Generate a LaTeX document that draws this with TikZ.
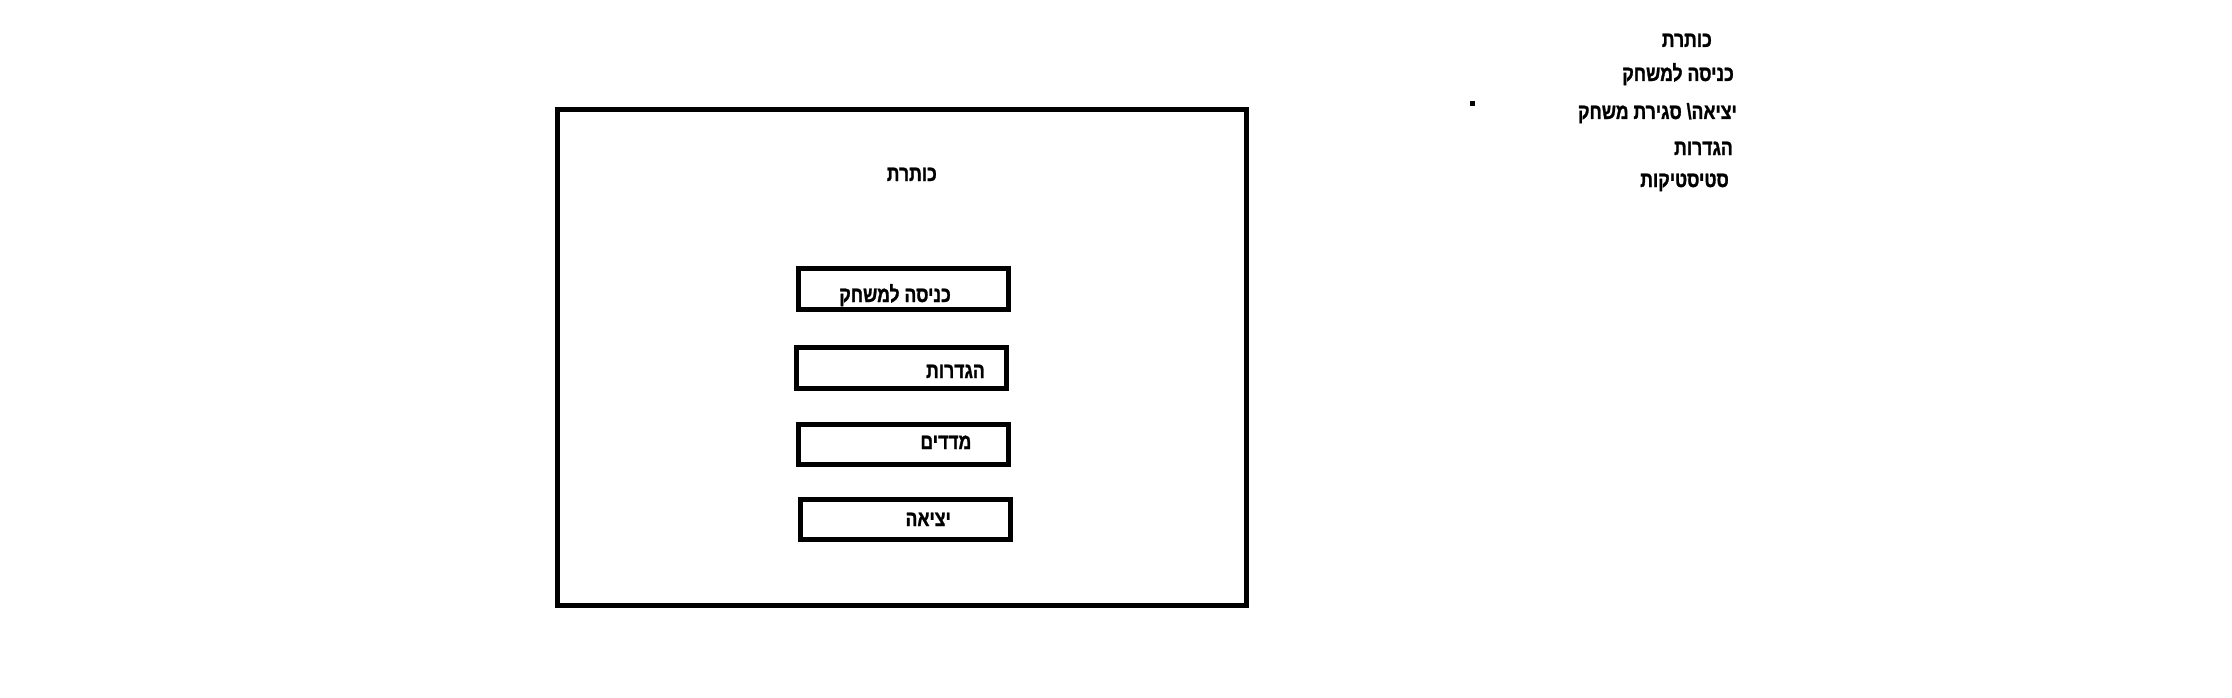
\documentclass[tikz,border=0pt]{standalone}
\usepackage{fontspec}
\setmainfont{Liberation Sans}
\newfontfamily\hebfont[Script=Hebrew,FakeStretch=0.8,FakeBold=1.2]{Liberation Sans}
\TeXXeTstate=1
\begin{document}
\begin{tikzpicture}[x=1pt,y=-1pt,
  frame/.style={draw=black,line width=5pt},
  btn/.style={draw=black,line width=5pt},
  heb/.style={inner sep=0pt,anchor=base east,font=\hebfont\bfseries\fontsize{22}{26}\selectfont}]
\useasboundingbox[fill=white] (0,0) rectangle (2232,698);
% main frame
\draw[frame] (557.5,109.5) rectangle (1246.5,605.5);
\node[heb] (title) at (937,181) {\beginR כותרת\endR};
% buttons
\draw[btn] (798.5,268.5) rectangle (1008,309);
\node[heb] (t1) at (951,302) {\beginR כניסה למשחק\endR};
\draw[btn] (796.5,347.5) rectangle (1006.5,388);
\node[heb] (t2) at (985,378) {\beginR הגדרות\endR};
\draw[btn] (798.5,424) rectangle (1008,464);
\node[heb] (t3) at (971.5,449) {\beginR מדדים\endR};
\draw[btn] (800,499.5) rectangle (1010,539.5);
\node[heb] (t4) at (951,526) {\beginR יציאה\endR};
% right list
\node[heb] (l1) at (1712,47) {\beginR כותרת\endR};
\node[heb] (l2) at (1734,81) {\beginR כניסה למשחק\endR};
\fill[black] (1470,101) rectangle (1475,106);
\node[heb] (l3) at (1737,119) {\beginR יציאה\textbackslash{} סגירת משחק\endR};
\node[heb] (l4) at (1733,155) {\beginR הגדרות\endR};
\node[heb] (l5) at (1729,187) {\beginR סטיסטיקות\endR};
\end{tikzpicture}
\end{document}
